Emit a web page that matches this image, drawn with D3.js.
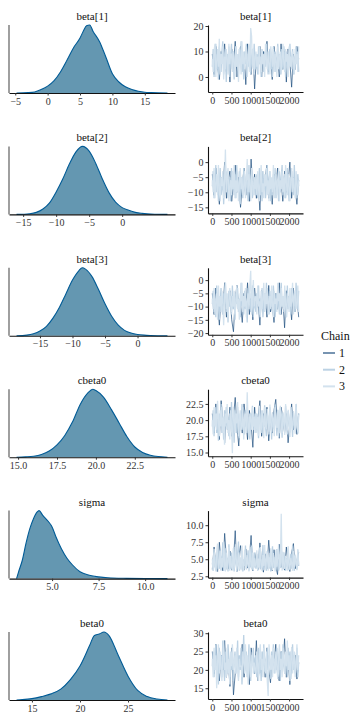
<!DOCTYPE html>
<html><head><meta charset="utf-8">
<script src="https://cdn.jsdelivr.net/npm/d3@7"></script>
<style>body{margin:0;background:#fff}svg{display:block}</style>
</head><body><svg id="c" width="360" height="720"></svg>
<script>
// ---------- data ----------
const paramNames = ["beta[1]","beta[2]","beta[3]","cbeta0","sigma","beta0"];
const chainLabels = ["1","2","3"];
const iterTicks = [0,500,1000,1500,2000];
const nIter = 2250;

// density curves (x value, relative height)
const densBeta1X = [-4.8,-3,-2,-1,0,1,2,3,4,5,5.5,6,6.5,7,8,9,10,11,12,13,14,15,16,18.5];
const densBeta1Y = [0,0.005,0.015,0.05,0.1,0.18,0.31,0.48,0.66,0.8,0.9,0.98,0.99,0.9,0.75,0.52,0.28,0.16,0.09,0.05,0.025,0.01,0.005,0];
const densBeta2X = [-16,-14,-13,-12,-11,-10,-9,-8,-7,-6,-5,-4,-3,-2,-1,0,1,2,3,5,6.86];
const densBeta2Y = [0,0.01,0.03,0.08,0.17,0.33,0.52,0.74,0.92,1.0,0.93,0.75,0.52,0.32,0.18,0.1,0.06,0.03,0.015,0.003,0];
const densBeta3X = [-18.6,-17,-16,-15,-14,-13,-12,-11,-10,-9,-8.5,-8,-7,-6,-5,-4,-3,-2,-1,0,1,2,4.6];
const densBeta3Y = [0,0.01,0.03,0.07,0.14,0.26,0.42,0.62,0.82,0.96,1.0,0.98,0.87,0.68,0.47,0.29,0.16,0.08,0.04,0.02,0.01,0.005,0];
const densCbeta0X = [14.9,15.5,16,16.5,17,17.5,18,18.5,19,19.5,19.8,20,20.5,21,21.5,22,22.5,23,23.5,24,24.6];
const densCbeta0Y = [0,0.005,0.015,0.04,0.09,0.18,0.32,0.52,0.78,0.95,1.0,0.98,0.88,0.7,0.5,0.3,0.15,0.07,0.03,0.01,0];
const densSigmaX = [3.09,3.2,3.4,3.6,3.8,4.0,4.2,4.3,4.5,4.8,5.0,5.2,5.5,5.8,6.1,6.5,7.0,7.5,8,9,10,11.2];
const densSigmaY = [0,0.1,0.27,0.52,0.73,0.88,0.98,1.0,0.93,0.84,0.76,0.62,0.44,0.3,0.2,0.1,0.05,0.025,0.012,0.004,0.001,0];
const densBeta0X = [13.4,14,15,16,17,18,19,20,21,21.5,22,22.5,23,24,25,26,27,28,29.1];
const densBeta0Y = [0,0.005,0.02,0.05,0.09,0.16,0.3,0.5,0.8,0.95,0.97,1.0,0.95,0.65,0.35,0.14,0.05,0.015,0];

// tick labels
const densTicksBeta1 = [-5,0,5,10,15];
const densTicksBeta2 = [-15,-10,-5,0];
const densTicksBeta3 = [-15,-10,-5,0];
const densTicksCbeta0 = [15,17.5,20,22.5];
const densTicksSigma = [5,7.5,10];
const densTicksBeta0 = [15,20,25];
const traceTicksBeta1 = [0,10,20];
const traceTicksBeta2 = [-15,-10,-5,0];
const traceTicksBeta3 = [-20,-15,-10,-5,0];
const traceTicksCbeta0 = [15,17.5,20,22.5];
const traceTicksSigma = [2.5,5,7.5,10];
const traceTicksBeta0 = [15,20,25,30];

// traces (thinned draws per chain)
const traceBeta1C1 = [9,1,12,4,-1,10,6,13,2,8,-2,11,5,14,0,7,12,3,9,-3,13,6,1,11,-4.7,8,4,12,0,10,6,14,2,9,-1,12,5,8,0,13,3,10,-2,11,6,-4,9,3,12,7];
const traceBeta1C2 = [4,11,0,8,13,3,9,-1,12,6,2,10,14,1,7,11,-2,9,5,12,0,8,13,3,10,-1,7,12,4,9,1,11,6,14,2,8,-1,10,5,13,0,9,4,12,1,7,11,3,13,6,
  3,9,1,12,5,8,0,11,7,2,10,4,13,6,1,9,11,3,8,0,12,5,10,2,7,13,4,9,1,11,6,3,12,8,0,10,5,2,9,13,4,7,11,1,8,3,12,6,10,2];
const traceBeta1C3 = [7,2,10,13,0,6,11,4,15,1,9,5,12,-1,8,3,11,7,1,13,5,9,9,2,10,6,0,12,4,9,-2,11,7,1,14,5,10,3,8,12,0,6,13,2,19.2,16,4,11,1,8,
  10,4,8,1,12,6,2,11,5,9,0,13,7,3,10,5,1,12,8,4,11,2,9,6,0,12,3,8,10,1,7,13,5,2,11,6,9,0,12,4,8,3,10,7,1,11,5,9,2,12];
const traceBeta2C1 = [-4,-11,-2,-8,-14,-5,-9,0,-12,-6,-3,-13,-7,-1,-10,-5,-15,-8,-2,-11,-6,-13,1,-9,-4,-12,-7,-16,-3,-10,-5,-1,-12,-8,-14,-4,-9,-2,-11,-6,-13,-3,-10,-7,0,-12,-5,-9,-14,-6];
const traceBeta2C2 = [-8,-3,-12,-6,-1,-10,-5,-13,-7,-2,-11,-9,-4,-14,-6,-1,-10,-3,-12,-8,-5,-13,-2,-9,-6,-11,-4,-12,-1,-8,-10,-3,-14,-7,-5,-12,-2,-9,-11,-4,-7,-13,-1,-10,-6,-3,-12,-8,-5,-11,
  -10,-4,-12,-7,-2,-11,-6,-13,-3,-9,-5,-12,-8,-1,-10,-6,-3,-13,-7,-11,-4,-9,-2,-12,-6,-8,-13,-3,-10,-5,-1,-11,-7,-4,-12,-9,-2,-8,-13,-5,-10,-3,-7,-11,-1,-9,-6,-12,-4,-8];
const traceBeta2C3 = [-6,-10,-2,-12,-7,-4,-11,-1,-9,-13,-5,-8,-3,-12,-7,4.2,-10,-5,-2,-13,-8,-6,-11,-3,-9,-1,-12,-6,-10,-4,-13,-7,-2,-9,-5,-11,-8,-3,-12,-6,1,-10,-4,-8,-13,-2,-7,-11,-5,-9,
  -5,-11,-3,-9,-13,-6,-1,-10,-7,-12,-4,-8,-2,-11,-6,-13,-3,-9,-5,-10,-1,-12,-7,-4,-11,-8,-2,-13,-6,-9,-3,-10,-5,-12,-1,-7,-11,-4,-8,-13,-6,-2,-10,-5,-9,-12,-3,-7,-11,-6];
const traceBeta3C1 = [-5,-13,-3,-9,-17,-6,-11,-1,-14,-8,-4,-15,-19.5,-7,-2,-12,-9,-16,-5,-10,-1,-13,-7,-15,-3,-11,-8,-17,-4,-10,-6,-14,-2,-12,-9,-16,-5,-11,-1,-13,-7,-18,-4,-10,-8,-15,-3,-12,-6,-14];
const traceBeta3C2 = [-9,-4,-12,-7,-14,-2,-10,-6,-15,-8,-3,-11,-13,-5,-9,-1,-12,-7,-16,-4,-10,-6,-13,-2,-11,-8,-15,-5,-9,-3,-12,-7,-14,-1,-10,-6,-13,-4,-11,-8,-16,-3,-9,-5,-12,-7,-2,-14,-6,-10,
  -12,-5,-9,-2,-13,-7,-10,-3,-14,-8,-5,-11,-1,-9,-6,-13,-4,-10,-7,-12,-2,-8,-14,-5,-11,-3,-9,-13,-6,-1,-10,-7,-12,-4,-8,-14,-2,-11,-6,-9,-13,-3,-7,-10,-5,-12,-1,-8,-11,-4];
const traceBeta3C3 = [-7,-11,-3,-13,-8,-5,-15,-2,-10,-6,-12,-4,-9,-17,-7,-1,-11,-5,-14,-8,-3,-9,-12,-6,-10,-4,-13,-9,-2,-11,-7,-15,-5,-8,-1,-12,-6,-10,-3,-14,-8,-5,-11,-2,3.5,-13,-6,0,-10,-7,
  -6,-13,-2,-10,-8,-14,-4,-11,-7,-1,-12,-5,-9,-3,-13,-8,-6,-11,-2,-10,-14,-4,-9,-7,-12,-1,-8,-5,-13,-3,-10,-6,-11,-2,-9,-14,-5,-7,-12,-3,-10,-8,-1,-13,-6,-4,-11,-9,-2,-12];
const traceCbeta0C1 = [21,18,22.5,19,17,23,20,16.5,21.5,18.5,22,17.5,20.5,23.5,19,16,21,18,22.5,20,17,21.5,19.5,15.8,22,18.5,20.5,23,17.5,21,19,22,16.8,20,18,21.5,23.2,19,17.2,22,20.5,18,21,16.5,19.5,22.5,18.5,20,17.8,21];
const traceCbeta0C2 = [19,21.5,17.5,20.5,22,18,20,16.8,21,19.5,22.5,18,20,17,21.5,19,22,18.5,20.5,17.5,21,19,22.8,18,20,16.5,21.5,19.5,18,22,20,17.2,21,19,22.5,18.5,20,17.8,21.5,19,22,18,20.5,17,21,19.5,22.2,18.5,20,21,
  18,21,19.5,17.2,22,20,18.5,21.5,17.8,20.5,22.3,19,17.5,21,19.8,18.2,22,20.3,17,21.2,19,18.6,22.4,20,17.6,21.6,19.4,18,22,20.6,17.3,21,19.2,18.4,22.2,20,17.8,21.4,19.6,18.1,22,20.2,17.4,21.1,19.3,18.7,22.5,20,17.9,21];
const traceCbeta0C3 = [20,17.8,22,19,21,18.5,23,20,17.5,21.5,19,22,18,20.5,16.2,21,19.5,22.5,18,20,17,21.5,19,14.9,22,20.5,18,21,19.5,22.8,17.5,20,21.5,18.5,19,22,17,20.5,21,18,24.3,19.5,17.5,21,20,18.5,22,19,20.5,18,
  21,18.3,20.5,17.6,22.2,19.5,18,21.3,20,17.2,22,19,18.6,21.7,20.4,17.8,22.4,19.2,18.2,21,20.2,17.5,22,19.6,18.8,21.5,17.3,20.7,22.2,19,18,21.2,20,17.7,22.5,19.4,18.4,21.6,20.1,17.4,22,19.1,18.5,21.4,20.3,17.9,22.1,19.3,18.2,20.8];
const traceSigmaC1 = [3.5,6.8,4,3.2,7.5,4.5,3.3,8.8,5,3.6,6.2,3.4,4.8,9.2,3.2,5.5,7,4,3.4,6.5,3.7,5,8.5,3.3,4.4,6,3.5,7.4,4.2,3.1,5.8,3.6,7.8,4.6,3.3,6.4,4,2.75,7.2,3.8,5.2,3.4,6.8,4.3,3.2,5.9,7.3,3.6,4.7,6];
const traceSigmaC2 = [4.5,3.3,6,3.8,5.5,3.2,7,4.2,3.6,6.4,3.4,5,7.5,3.3,4.6,6.6,3.5,5.2,3.2,7.2,4,3.6,6,3.4,5.4,3.2,6.8,4.4,3.5,5.8,7.6,3.3,4.8,3.6,6.2,3.2,5,4,7,3.5,4.6,6.3,3.3,5.6,3.8,7,4.2,3.4,6,4.8,
  3.6,5.8,3.3,4.7,6.7,3.5,5,3.9,7.1,3.4,5.5,4.2,3.3,6.2,4.6,3.6,5.9,3.2,4.9,6.9,3.7,5.3,4,3.4,6.5,4.4,3.3,5.7,3.8,7.3,4.1,3.5,6,4.8,3.3,5.2,3.9,6.6,3.4,4.5,5.8,3.6,7,4.2,3.3,5.4,4.7,3.5,6.3,4];
const traceSigmaC3 = [5,3.4,6.5,4,3.2,5.8,7.3,3.6,4.4,6.2,3.3,5.2,3.8,7.6,4.2,3.2,6,3.5,4.8,6.8,3.3,5.5,4,3.4,6.6,3.6,5,7.2,3.2,4.5,6,3.5,5.3,3.4,7,4,3.3,6.4,5.8,3.6,5.6,4.2,3.2,6.8,4.6,3.5,6,3.4,5.2,4,
  4.2,6.3,3.4,5.1,3.7,6.8,4.5,3.3,5.6,4,7.1,3.5,4.9,6,3.3,5.3,3.8,6.6,4.3,3.4,5.9,4.6,3.2,6.4,3.9,5,7.2,3.5,4.4,11.7,3.3,6.1,4.1,3.6,5.5,4.8,3.3,6.9,4,3.5,5.2,4.4,3.3,6.2,3.8,5.7,4.6,3.4,6.5,4.2];
const traceBeta0C1 = [25,19,27,21,17,24,20,28,18,23,15.5,26,13.2,19,25,21,22,27,18,24,20,16,26,22,19,28,17,23,21,25,18,26,20,16.5,24,22,27,19,17,25,21,28.5,18,23,16,26,20,24,17.5,22];
const traceBeta0C2 = [21,25,18,23,27,19,22,16,26,20,24,18,28,21,17,25,22,19,27,23,18,24,20,26,17,22,25,19,21,28,18,24,20,26,16,23,29.5,19,22,25,18,21,27,20,17,24,22,26,19,23,
  24,18,22,26,19,23,17,25,21,27,19.5,23,18,26,20,24,22,17.5,25,21,27,19,23,20,26,18,24,22,17,25,20,27,21,19,24,23,18,26,21,25,17.5,22,27,20,24,19,23,26,18,22];
const traceBeta0C3 = [23,18,26,20,24,15,22,27,19,25,21,17,24,28,20,22,18,26,19,23,16,25,21,27,20,22,24,19,26,20,17,23,21,21,18,25,22,19,27,20,24,16,23,26,18,21,25,19,22,20,
  19,25,21,17,24,27,20,23,18,26,22,19,25,17,12.9,27,23,20,24,18,26,22,19,25,21,17.5,24,27,20,23,18,26,22,19,25,21,28,20,24,17,23,26,19,22,25,18,21,27,20,24];

// ---------- assembly ----------
const panels = [
  {name:paramNames[0], dx:densBeta1X, dy:densBeta1Y, dt:densTicksBeta1, tt:traceTicksBeta1, tr:[traceBeta1C1,traceBeta1C2,traceBeta1C3], fmt:d3.format("d")},
  {name:paramNames[1], dx:densBeta2X, dy:densBeta2Y, dt:densTicksBeta2, tt:traceTicksBeta2, tr:[traceBeta2C1,traceBeta2C2,traceBeta2C3], fmt:d3.format("d")},
  {name:paramNames[2], dx:densBeta3X, dy:densBeta3Y, dt:densTicksBeta3, tt:traceTicksBeta3, tr:[traceBeta3C1,traceBeta3C2,traceBeta3C3], fmt:d3.format("d")},
  {name:paramNames[3], dx:densCbeta0X, dy:densCbeta0Y, dt:densTicksCbeta0, tt:traceTicksCbeta0, tr:[traceCbeta0C1,traceCbeta0C2,traceCbeta0C3], fmt:d3.format(".1f")},
  {name:paramNames[4], dx:densSigmaX, dy:densSigmaY, dt:densTicksSigma, tt:traceTicksSigma, tr:[traceSigmaC1,traceSigmaC2,traceSigmaC3], fmt:d3.format(".1f")},
  {name:paramNames[5], dx:densBeta0X, dy:densBeta0Y, dt:densTicksBeta0, tt:traceTicksBeta0, tr:[traceBeta0C1,traceBeta0C2,traceBeta0C3], fmt:d3.format("d")}
];

const FONT = "'Liberation Serif','Times New Roman',Times,serif";
const chainColors = ["#1d4e7e","#bcd2e4","#d3e2ee"];
const chainWidths = [0.7,1.3,1.3];
const densFill = "#6497b1", densLine = "#005b96";
const tickCol = "#333";

const svg = d3.select("#c");
const rowStep = 121.4;
const L = {x0:9, x1:175, top:25, bot:93};
const R = {x0:208, x1:303, top:25, bot:92};

function expand(ext){const r=ext[1]-ext[0];return [ext[0]-0.05*r, ext[1]+0.05*r];}
function styleAxis(a){
  a.attr("font-family",null).attr("font-size",null);
  a.select(".domain").attr("stroke","#111").attr("stroke-width",1.1);
  a.selectAll(".tick line").attr("stroke","#333");
  a.selectAll("text").style("font-family",FONT).style("font-size","10px").attr("fill",tickCol);
}

panels.forEach((p,i)=>{
  const g = svg.append("g").attr("transform",`translate(0,${i*rowStep})`);
  // ---- density ----
  const x = d3.scaleLinear().domain(expand(d3.extent(p.dx))).range([L.x0,L.x1]);
  const y = d3.scaleLinear().domain([0,d3.max(p.dy)]).range([L.bot,L.top]);
  const pts = p.dx.map((v,k)=>[v,p.dy[k]]);
  g.append("path").datum(pts)
    .attr("d", d3.area().x(d=>x(d[0])).y0(y(0)).y1(d=>y(d[1])).curve(d3.curveMonotoneX))
    .attr("fill",densFill);
  g.append("path").datum(pts)
    .attr("d", d3.line().x(d=>x(d[0])).y(d=>y(d[1])).curve(d3.curveMonotoneX))
    .attr("fill","none").attr("stroke",densLine).attr("stroke-width",1.1);
  const xa = g.append("g").attr("transform",`translate(0,${L.bot})`)
    .call(d3.axisBottom(x).tickValues(p.dt).tickFormat(p.fmt).tickSize(2.5).tickPadding(2).tickSizeOuter(0));
  styleAxis(xa);
  g.append("line").attr("x1",L.x0).attr("x2",L.x0).attr("y1",L.top).attr("y2",L.bot)
    .attr("stroke","#777").attr("stroke-width",1.4);
  g.append("text").attr("x",(L.x0+L.x1)/2).attr("y",20).attr("text-anchor","middle")
    .style("font-family",FONT).style("font-size","11px").attr("fill","#111").text(p.name);

  // ---- trace ----
  const allv = p.tr.flat();
  const tx = d3.scaleLinear().domain(expand([1,nIter])).range([R.x0,R.x1]);
  const ty = d3.scaleLinear().domain(expand(d3.extent(allv))).range([R.bot,R.top]);
  p.tr.forEach((vals,c)=>{
    const n = vals.length;
    g.append("path").datum(vals)
      .attr("d", d3.line().x((d,k)=>tx(1+k*(nIter-1)/(n-1))).y(d=>ty(d)))
      .attr("fill","none").attr("stroke",chainColors[c]).attr("stroke-width",chainWidths[c]);
  });
  const ya = g.append("g").attr("transform",`translate(${R.x0},0)`)
    .call(d3.axisLeft(ty).tickValues(p.tt).tickFormat(p.fmt).tickSize(2.5).tickPadding(2).tickSizeOuter(0));
  const xb = g.append("g").attr("transform",`translate(0,${R.bot})`)
    .call(d3.axisBottom(tx).tickValues(iterTicks).tickFormat(d3.format("d")).tickSize(2.5).tickPadding(2).tickSizeOuter(0));
  styleAxis(ya); styleAxis(xb);
  g.append("text").attr("x",(R.x0+R.x1)/2).attr("y",20).attr("text-anchor","middle")
    .style("font-family",FONT).style("font-size","11px").attr("fill","#111").text(p.name);
});

// ---- legend ----
const lg = svg.append("g");
lg.append("text").attr("x",321).attr("y",340).style("font-family",FONT).style("font-size","12px").attr("fill","#111").text("Chain");
chainLabels.forEach((lab,c)=>{
  const yy = 353 + c*16.7;
  lg.append("line").attr("x1",323).attr("x2",335).attr("y1",yy).attr("y2",yy)
    .attr("stroke",chainColors[c]).attr("stroke-width",c===0?1.2:2);
  lg.append("text").attr("x",339).attr("y",yy+4).style("font-family",FONT).style("font-size","12px").attr("fill","#111").text(lab);
});
</script></body></html>
